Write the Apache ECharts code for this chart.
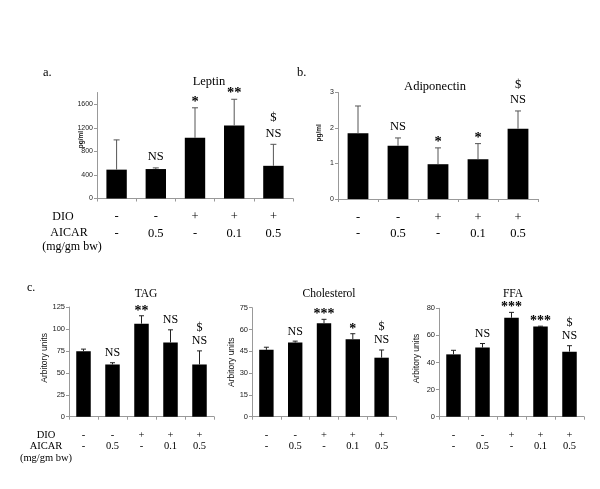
<!DOCTYPE html>
<html>
<head>
<meta charset="utf-8">
<script src="https://cdn.jsdelivr.net/npm/echarts@6/dist/echarts.min.js"></script>
<style>html,body{margin:0;padding:0;background:#fff;}#c{width:600px;height:489px;}</style>
</head>
<body>
<div id="c"></div>
<script>
// ---- data ----
const dio = ['-', '-', '+', '+', '+'];
const aicar = ['-', '0.5', '-', '0.1', '0.5'];

const leptinMean = [490, 500, 1030, 1240, 555];
const leptinErr = [505, 20, 510, 445, 365];
const leptinSig = ['', 'NS', '*', '**', '$\nNS'];
const leptinTicks = [0, 400, 800, 1200, 1600];

const adipoMean = [1.85, 1.5, 0.98, 1.12, 1.98];
const adipoErr = [0.77, 0.22, 0.46, 0.44, 0.5];
const adipoSig = ['', 'NS', '*', '*', '$\nNS'];
const adipoTicks = [0, 1, 2, 3];

const tagMean = [74.5, 59.5, 106, 84.5, 59.5];
const tagErr = [2.5, 2, 9, 14.5, 15.5];
const tagSig = ['', 'NS', '**', 'NS', '$\nNS'];
const tagTicks = [0, 25, 50, 75, 100, 125];

const cholMean = [46, 51, 64.3, 53.3, 40.6];
const cholErr = [1.8, 1, 2.7, 3.8, 5.3];
const cholSig = ['', 'NS', '***', '*', '$\nNS'];
const cholTicks = [0, 15, 30, 45, 60, 75];

const ffaMean = [46, 51, 73, 66.5, 48];
const ffaErr = [3, 3, 4, 0.3, 4.4];
const ffaSig = ['', 'NS', '***', '***', '$\nNS'];
const ffaTicks = [0, 20, 40, 60, 80];

const categories = dio.map((d, i) => d + '\n' + aicar[i]);

// ---- layout ----
const SERIF = '"Liberation Serif","Times New Roman",serif';
const SANS = '"Liberation Sans",Arial,sans-serif';

const panels = [
  {grid: {left: 97, top: 92.5, width: 196, height: 106}, mean: leptinMean, err: leptinErr, sig: leptinSig, ticks: leptinTicks, max: 1800, name: 'pg/ml', nameBold: true, nameSize: 6.5, nameGap: 12, namePad: [0, 0, 0, 12], tickSize: 7, labFont: 12.5, labLH: 16.5, labMargin: 10, barW: '52%', cap: 6, errColor: '#555', sigFont: 12.5, sigLH: 15.5},
  {grid: {left: 338, top: 92.5, width: 200, height: 106.5}, mean: adipoMean, err: adipoErr, sig: adipoSig, ticks: adipoTicks, max: 3, name: 'pg/ml', nameBold: true, nameSize: 6.5, nameGap: 15.5, namePad: [0, 0, 0, 26], tickSize: 7, labFont: 12.5, labLH: 16.5, labMargin: 10, barW: '52%', cap: 6, errColor: '#555', sigFont: 12.5, sigLH: 15.5},
  {grid: {left: 69, top: 307, width: 145, height: 109.7}, mean: tagMean, err: tagErr, sig: tagSig, ticks: tagTicks, max: 125, name: 'Arbitory units', nameBold: false, nameSize: 8.5, nameGap: 19.5, namePad: [0, 0, 0, 8], tickSize: 7.5, labFont: 10.5, labLH: 11.5, labMargin: 12.5, barW: '50%', cap: 5, errColor: '#222', sigFont: 12, sigLH: 13.5},
  {grid: {left: 252, top: 307.7, width: 144, height: 109}, mean: cholMean, err: cholErr, sig: cholSig, ticks: cholTicks, max: 75, name: 'Arbitory units', nameBold: false, nameSize: 8.5, nameGap: 15.5, namePad: [0, 0, 0, 0], tickSize: 7.5, labFont: 10.5, labLH: 11.5, labMargin: 12.5, barW: '50%', cap: 5, errColor: '#222', sigFont: 12, sigLH: 13.5},
  {grid: {left: 439, top: 308.3, width: 145, height: 108.4}, mean: ffaMean, err: ffaErr, sig: ffaSig, ticks: ffaTicks, max: 80, name: 'Arbitory units', nameBold: false, nameSize: 8.5, nameGap: 18, namePad: [0, 0, 0, 8], tickSize: 7.5, labFont: 10.5, labLH: 11.5, labMargin: 12.5, barW: '50%', cap: 5, errColor: '#222', sigFont: 12, sigLH: 13.5}
];

function errRender(p) {
  return function (params, api) {
    const i = api.value(0), v = api.value(1), e = api.value(2);
    const base = api.coord([i, v]);
    const top = api.coord([i, v + e]);
    const children = [
      {type: 'line', shape: {x1: top[0], y1: base[1], x2: top[0], y2: top[1]}, style: {stroke: p.errColor, lineWidth: 1}},
      {type: 'line', shape: {x1: top[0] - p.cap / 2, y1: top[1], x2: top[0] + p.cap / 2, y2: top[1]}, style: {stroke: p.errColor, lineWidth: 1}}
    ];
    const s = p.sig[i];
    if (s) {
      const star = s.indexOf('*') >= 0;
      children.push({
        type: 'text', x: top[0], y: top[1] - (star ? -2 : 3),
        style: {text: s, align: 'center', verticalAlign: 'bottom', fill: '#000',
          font: (star ? 'bold ' + (p.sigFont + 2) : p.sigFont) + 'px ' + SERIF, lineHeight: p.sigLH}
      });
    }
    return {type: 'group', children};
  };
}

const option = {
  animation: false,
  backgroundColor: '#fff',
  title: [
    {text: 'Leptin', left: 204, top: 70, textAlign: 'center', textStyle: {fontFamily: SERIF, fontWeight: 'normal', fontSize: 12.5, color: '#000'}},
    {text: 'Adiponectin', left: 430, top: 75, textAlign: 'center', textStyle: {fontFamily: SERIF, fontWeight: 'normal', fontSize: 12.5, color: '#000'}},
    {text: 'TAG', left: 141, top: 283, textAlign: 'center', textStyle: {fontFamily: SERIF, fontWeight: 'normal', fontSize: 11.5, color: '#000'}},
    {text: 'Cholesterol', left: 324, top: 282.5, textAlign: 'center', textStyle: {fontFamily: SERIF, fontWeight: 'normal', fontSize: 11.5, color: '#000'}},
    {text: 'FFA', left: 508, top: 282.5, textAlign: 'center', textStyle: {fontFamily: SERIF, fontWeight: 'normal', fontSize: 11.5, color: '#000'}}
  ],
  grid: panels.map(p => p.grid),
  xAxis: panels.map((p, k) => ({
    type: 'category', gridIndex: k, data: categories,
    axisLine: {lineStyle: {color: '#999', width: 1}},
    axisTick: {show: true, alignWithLabel: false, length: 3, lineStyle: {color: '#999'}},
    axisLabel: {interval: 0, margin: p.labMargin, fontFamily: SERIF, fontSize: p.labFont, lineHeight: p.labLH, color: '#000'}
  })),
  yAxis: panels.map((p, k) => ({
    type: 'value', gridIndex: k, min: 0, max: p.max,
    splitLine: {show: false},
    axisLine: {show: true, lineStyle: {color: '#999', width: 1}},
    axisTick: {show: true, length: 3, lineStyle: {color: '#999'}, customValues: p.ticks},
    axisLabel: {fontFamily: SANS, fontSize: p.tickSize, color: '#222', margin: 4, customValues: p.ticks, formatter: v => String(v)},
    name: p.name, nameLocation: 'middle', nameGap: p.nameGap, nameMoveOverlap: false,
    nameTextStyle: {fontFamily: SANS, fontSize: p.nameSize, fontWeight: p.nameBold ? 'bold' : 'normal', color: '#111', padding: p.namePad}
  })),
  series: panels.flatMap((p, k) => [
    {type: 'bar', xAxisIndex: k, yAxisIndex: k, data: p.mean, barWidth: p.barW, itemStyle: {color: '#000'}, z: 2},
    {type: 'custom', xAxisIndex: k, yAxisIndex: k, renderItem: errRender(p), z: 3,
      data: p.mean.map((m, i) => [i, m, p.err[i]])}
  ]),
  graphic: [
    {type: 'text', left: 43, top: 66, style: {text: 'a.', font: '12.5px ' + SERIF, fill: '#000'}},
    {type: 'text', left: 297, top: 66, style: {text: 'b.', font: '12.5px ' + SERIF, fill: '#000'}},
    {type: 'text', left: 27, top: 282, style: {text: 'c.', font: '12px ' + SERIF, fill: '#000'}},
    {type: 'text', x: 63, y: 216.7, style: {text: 'DIO', font: '12px ' + SERIF, fill: '#000', align: 'center', verticalAlign: 'middle'}},
    {type: 'text', x: 69, y: 233.3, style: {text: 'AICAR', font: '12px ' + SERIF, fill: '#000', align: 'center', verticalAlign: 'middle'}},
    {type: 'text', x: 72, y: 247, style: {text: '(mg/gm bw)', font: '12px ' + SERIF, fill: '#000', align: 'center', verticalAlign: 'middle'}},
    {type: 'text', x: 46, y: 435, style: {text: 'DIO', font: '10.5px ' + SERIF, fill: '#000', align: 'center', verticalAlign: 'middle'}},
    {type: 'text', x: 46, y: 446.5, style: {text: 'AICAR', font: '10.5px ' + SERIF, fill: '#000', align: 'center', verticalAlign: 'middle'}},
    {type: 'text', x: 46, y: 458, style: {text: '(mg/gm bw)', font: '10.5px ' + SERIF, fill: '#000', align: 'center', verticalAlign: 'middle'}}
  ]
};

const chart = echarts.init(document.getElementById('c'), null, {renderer: 'canvas'});
chart.setOption(option);
</script>
</body>
</html>
